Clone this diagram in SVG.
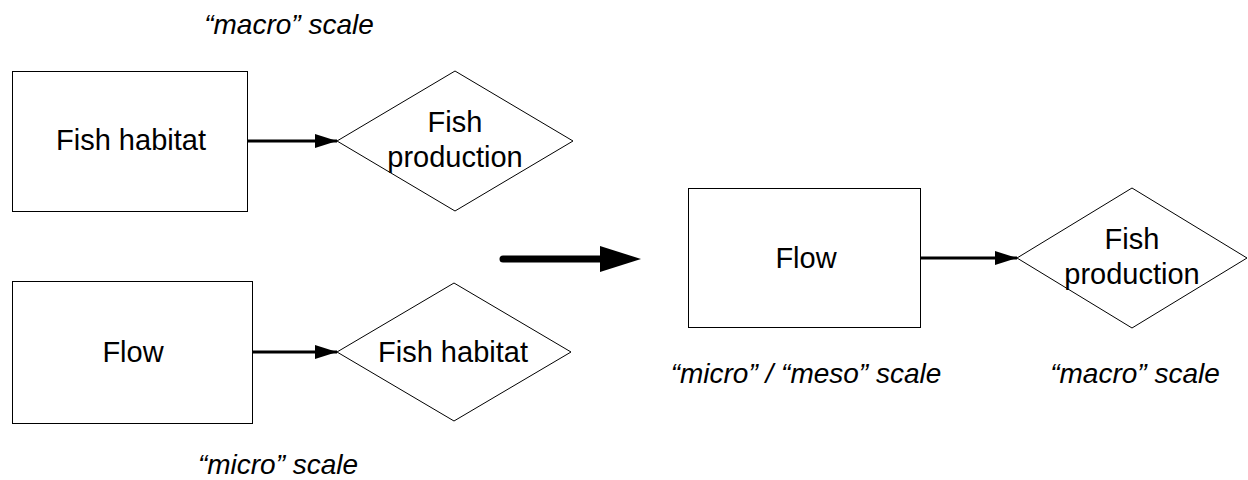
<svg xmlns="http://www.w3.org/2000/svg" width="1248" height="480" viewBox="0 0 1248 480">
<style>
.box{fill:#fff;stroke:#000;stroke-width:1}
.t{font-family:"Liberation Sans",Arial,sans-serif;font-size:29px;fill:#000;text-anchor:middle}
.s{font-family:"Liberation Sans",Arial,sans-serif;font-size:28px;font-style:italic;fill:#000;text-anchor:middle}
.ln{stroke:#000;stroke-width:3;fill:none}
</style>
<defs>
<marker id="ah" viewBox="0 0 22 14" refX="22" refY="7" markerWidth="22" markerHeight="14" markerUnits="userSpaceOnUse" orient="auto">
<path d="M0,0 L22,7 L0,14 Z" fill="#000"/>
</marker>
</defs>
<rect width="1248" height="480" fill="#fff"/>
<text class="s" x="289" y="34">“macro” scale</text>
<text class="s" x="278" y="474">“micro” scale</text>
<text class="s" x="806" y="383">“micro” / “meso” scale</text>
<text class="s" x="1135" y="383">“macro” scale</text>
<g id="n1"><rect class="box" x="12.5" y="71.5" width="235" height="140"/><text class="t" x="131" y="150">Fish habitat</text></g>
<g id="n2"><polygon class="box" points="337,141 455,71 573,141 455,211"/><text class="t" x="455" y="132">Fish</text><text class="t" x="455" y="167">production</text></g>
<g id="n3"><rect class="box" x="12.5" y="281.5" width="240" height="142"/><text class="t" x="133" y="362">Flow</text></g>
<g id="n4"><polygon class="box" points="337,352 454,283 571,352 454,421"/><text class="t" x="453" y="362">Fish habitat</text></g>
<g id="n5"><rect class="box" x="688.5" y="188.5" width="232" height="139"/><text class="t" x="806" y="268">Flow</text></g>
<g id="n6"><polygon class="box" points="1017,258 1132,188 1247,258 1132,328"/><text class="t" x="1132" y="249">Fish</text><text class="t" x="1132" y="284">production</text></g>
<g id="edges">
<line class="ln" x1="248" y1="141" x2="337" y2="141" marker-end="url(#ah)"/>
<line class="ln" x1="252" y1="352" x2="337" y2="352" marker-end="url(#ah)"/>
<line class="ln" x1="920" y1="258" x2="1017" y2="258" marker-end="url(#ah)"/>
<line x1="503" y1="259" x2="610" y2="259" stroke="#000" stroke-width="7" stroke-linecap="round"/>
<path d="M600,246 L641,259 L600,272 Z" fill="#000"/>
</g>
</svg>
